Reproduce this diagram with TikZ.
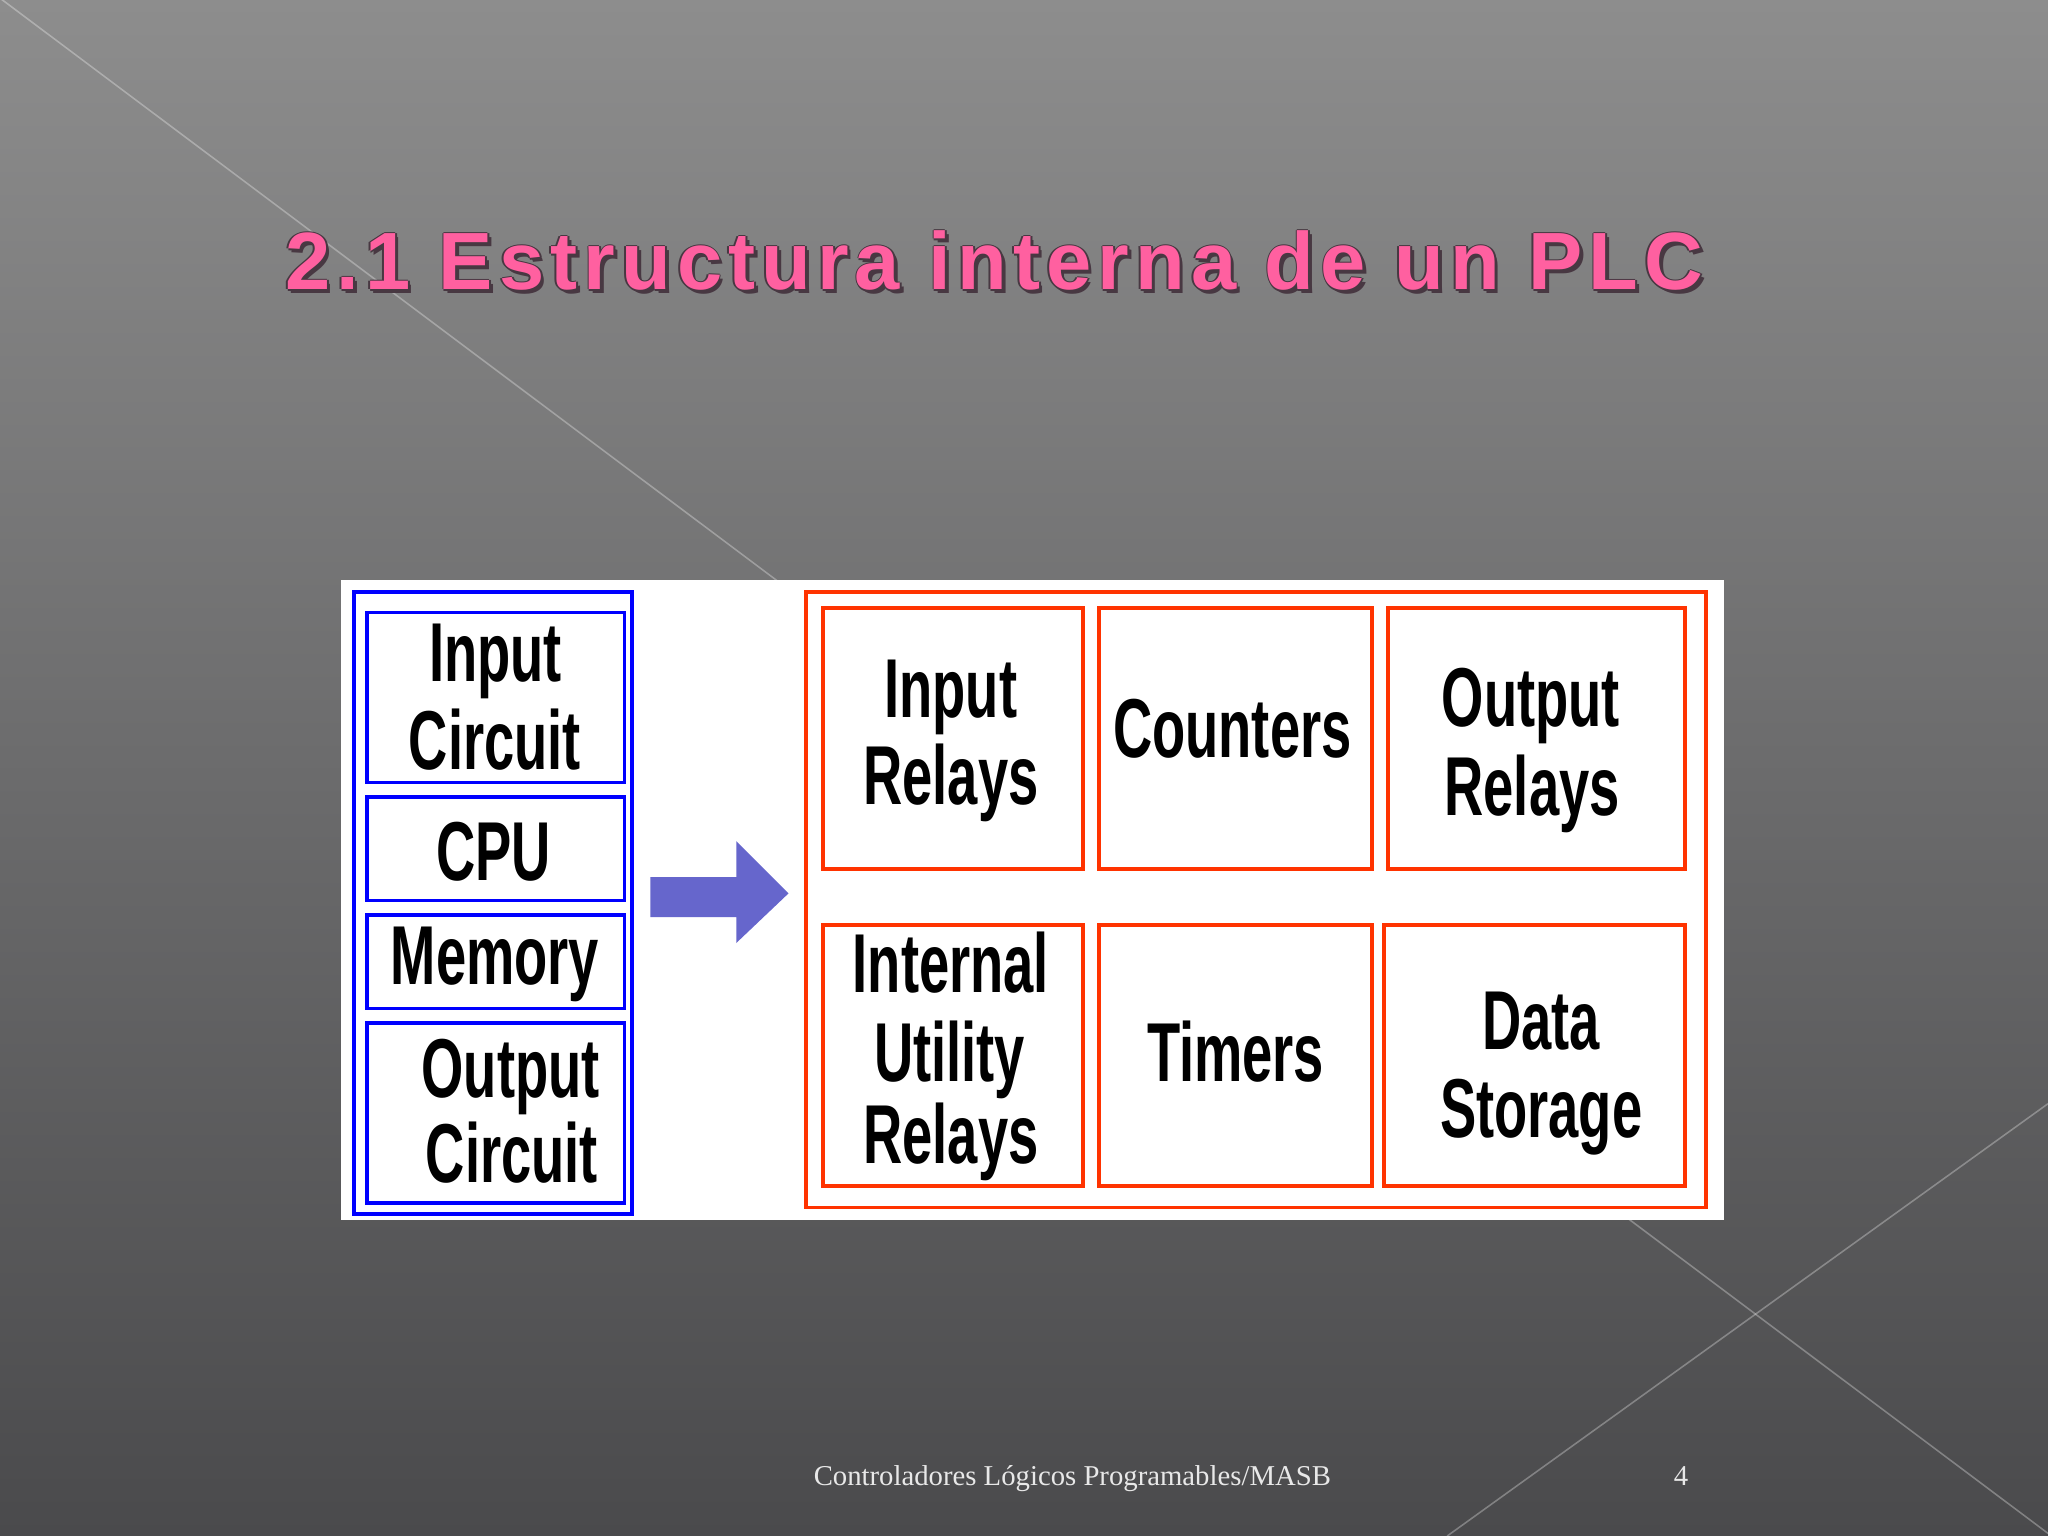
\documentclass[tikz,border=0pt]{standalone}
\usepackage{fontspec}
\usepackage{graphicx}
\setmainfont{Liberation Serif}
\newfontfamily\titlefam[LetterSpace=7.5]{Liberation Sans}
\newfontfamily\boxfam{Liberation Sans}
\definecolor{bgtop}{RGB}{141,141,141}
\definecolor{bgbot}{RGB}{74,74,76}
\definecolor{titlepink}{RGB}{255,96,160}
\definecolor{titleshadow}{RGB}{72,56,66}
\definecolor{plcblue}{RGB}{0,0,255}
\definecolor{plcred}{RGB}{255,51,0}
\definecolor{arrowblue}{RGB}{102,102,204}
\definecolor{footgray}{RGB}{232,232,232}
\newcommand\nar[1]{\scalebox{0.65}[1]{#1}}
\newcommand\plcbox[6]{%
  \node[#1, minimum width={(#5-#3)*0.5pt}, minimum height={(#6-#4)*0.5pt}] (#2) at ({(#3+#5)/2},{(#4+#6)/2}) {};}
\tikzset{
  bluebox/.style={draw=plcblue, line width=1.4pt, inner sep=0pt},
  redbox/.style={draw=plcred, line width=1.5pt, inner sep=0pt},
  boxtxt/.style={font=\boxfam\bfseries\fontsize{32}{33}\selectfont, text=black, anchor=base, inner sep=0pt},
  titletxt/.style={font=\titlefam\bfseries\fontsize{31.1}{36}\selectfont, anchor=base west, inner sep=0pt},
  foot/.style={font=\fontsize{11}{13}\selectfont, text=footgray, anchor=base, inner sep=0pt},
  deco/.style={draw=white, draw opacity=0.3, line width=0.6pt}
}
\begin{document}
\begin{tikzpicture}[x=0.5pt, y=-0.5pt]
\useasboundingbox (0,0) rectangle (1568,1176);
\shade[top color=bgtop, bottom color=bgbot] (0,0) rectangle (1568,1176);
% decorative lines
\coordinate (d1a) at (0,-1.4);
\coordinate (d1b) at (1568,1174);
\coordinate (d2a) at (1568,845);
\coordinate (d2b) at (1108,1176);
\draw[deco] (d1a) -- (d1b);
\draw[deco] (d2a) -- (d2b);
% title: dark rim and shadow, then pink face
\node[titletxt, text=titleshadow] (titlesh) at (220.8,224.8) {2.1 Estructura interna de un PLC};
\node[titletxt, text=titleshadow] (titlerimL) at (216.8,222) {2.1 Estructura interna de un PLC};
\node[titletxt, text=titleshadow] (titlerimR) at (219.4,222) {2.1 Estructura interna de un PLC};
\node[titletxt, text=titleshadow] (titlerimT) at (218,220.8) {2.1 Estructura interna de un PLC};
\node[titletxt, text=titleshadow] (titlerimB) at (218,223.4) {2.1 Estructura interna de un PLC};
\node[titletxt, text=titlepink] (title) at (218,222) {2.1 Estructura interna de un PLC};
% white panel
\plcbox{fill=white, inner sep=0pt}{panel}{261}{444}{1320}{934}
% blue column
\plcbox{bluebox}{blueouter}{271}{453}{484}{929.5}
\plcbox{bluebox}{bIC}{281}{469}{478}{599}
\plcbox{bluebox}{bCPU}{281}{610}{478}{689.5}
\plcbox{bluebox}{bMem}{281}{700.5}{478}{772}
\plcbox{bluebox}{bOC}{281}{783}{478}{921}
\node[boxtxt] (tIC1) at (379.5,522) {\nar{Input}};
\node[boxtxt] (tIC2) at (379,589) {\nar{Circuit}};
\node[boxtxt] (tCPU) at (378,674) {\nar{CPU}};
\node[boxtxt] (tMem) at (379,753.6) {\nar{Memory}};
\node[boxtxt] (tOC1) at (391,840) {\nar{Output}};
\node[boxtxt] (tOC2) at (392,905) {\nar{Circuit}};
% arrow
\fill[arrowblue] (498,671.6) -- (563.7,671.6) -- (563.7,644) -- (603.7,684) -- (563.7,722) -- (563.7,702.2) -- (498,702.2) -- cycle;
% red block
\plcbox{redbox}{redouter}{617}{453}{1306}{924.5}
\plcbox{redbox}{rIR}{630}{465.6}{829}{665.5}
\plcbox{redbox}{rCnt}{841.4}{465.6}{1050.6}{665.5}
\plcbox{redbox}{rOR}{1063}{465.6}{1290}{665.5}
\plcbox{redbox}{rIUR}{630}{708}{829}{908}
\plcbox{redbox}{rTim}{841.4}{708}{1050.6}{908}
\plcbox{redbox}{rDS}{1059.3}{708}{1290}{908}
\node[boxtxt] (tIR1) at (728,549.3) {\nar{Input}};
\node[boxtxt] (tIR2) at (728,615.7) {\nar{Relays}};
\node[boxtxt] (tCnt) at (943.5,580) {\nar{Counters}};
\node[boxtxt] (tOR1) at (1172,556) {\nar{Output}};
\node[boxtxt] (tOR2) at (1173,624) {\nar{Relays}};
\node[boxtxt] (tIUR1) at (728,760) {\nar{Internal}};
\node[boxtxt] (tIUR2) at (727,828) {\nar{Utility}};
\node[boxtxt] (tIUR3) at (728,891) {\nar{Relays}};
\node[boxtxt] (tTim) at (946,828) {\nar{Timers}};
\node[boxtxt] (tDS1) at (1180,803.3) {\nar{Data}};
\node[boxtxt] (tDS2) at (1180,871) {\nar{Storage}};
% footer
\node[foot] (footer) at (821,1137.5) {Controladores Lógicos Programables/MASB};
\node[foot] (pagenum) at (1287,1137) {4};
\end{tikzpicture}
\end{document}
